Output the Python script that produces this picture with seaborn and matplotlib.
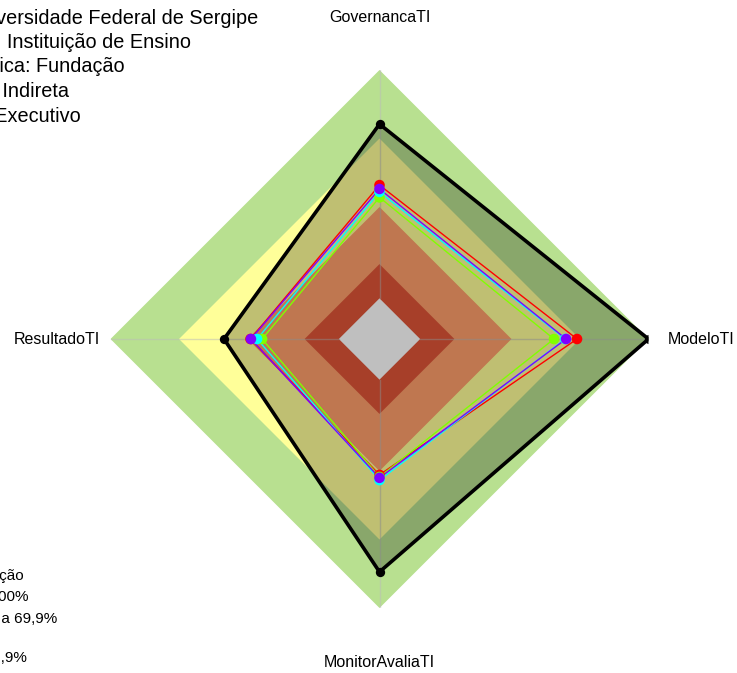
import numpy as np
import pandas as pd
import seaborn as sns
import matplotlib
matplotlib.use("Agg")
import matplotlib.pyplot as plt

plt.rcParams['font.family'] = ['Liberation Sans', 'DejaVu Sans']

# eixos do radar (sentido horario a partir do topo)
eixos = ["GovernancaTI", "ModeloTI", "MonitorAvaliaTI", "ResultadoTI"]

# faixas de classificacao (limite superior de cada faixa, %)
niveis = [100, 70, 40, 15, 0]
cores_niveis = ["#b8e090", "#ffff99", "#ffa06b", "#e05538", "#ffffff"]

# serie de referencia (linha preta)
referencia = [76.3, 100.0, 84.2, 50.3]

# avaliacoes da instituicao
series = ["Avaliação 1", "Avaliação 2", "Avaliação 3", "Avaliação 4"]
valores_1 = [49.6, 68.7, 41.7, 38.7]
valores_2 = [44.2, 58.6, 42.6, 33.6]
valores_3 = [46.6, 63.5, 44.0, 35.8]
valores_4 = [47.9, 63.9, 43.0, 38.5]
cores_series = ["#FF0000", "#80FF00", "#00FFFF", "#8000FF"]

info = ["Nome: Fundação Universidade Federal de Sergipe",
        "Segmento: Instituição de Ensino",
        "Natureza Jurídica: Fundação",
        "Administração: Indireta",
        "Poder: Executivo"]
legenda = ["Classificação",
           "Aprimorado: de 70% a 100%",
           "Intermediário: de 40% a 69,9%",
           "Iniciando:",
           "de 15% a 39,9%"]

W, H = 737, 673
fig = plt.figure(figsize=(W / 100, H / 100), dpi=100)
cx, cy, R = 379.5, 339, 269
ax = fig.add_axes([(cx - R) / W, (H - cy - R) / H, 2 * R / W, 2 * R / H], projection="polar")
ax.set_theta_offset(np.pi / 2)
ax.set_theta_direction(-1)

theta = np.linspace(0, 2 * np.pi, len(eixos), endpoint=False)
theta_f = np.append(theta, 2 * np.pi)

# faixas em losango
for nv, cor in zip(niveis, cores_niveis):
    ax.fill(theta_f, [nv] * len(theta_f), color=cor, lw=0, zorder=1)

# raios
for t in theta:
    ax.plot([t, t], [0, 100], color="#bbbbbb", alpha=0.5, lw=1, zorder=2)

# referencia preenchida
ref_f = referencia + referencia[:1]
ax.fill(theta_f, ref_f, color="black", alpha=0.25, lw=0, zorder=3)

rows = []
for nome, vals in zip(series, [valores_1, valores_2, valores_3, valores_4]):
    for t, v in zip(theta_f, vals + vals[:1]):
        rows.append({"theta": t, "valor": v, "serie": nome})
df = pd.DataFrame(rows)
pal = dict(zip(series, cores_series))

sns.lineplot(data=df, x="theta", y="valor", hue="serie", palette=pal, sort=False,
             estimator=None, lw=1, legend=False, ax=ax, zorder=4)
sns.lineplot(x=theta_f, y=ref_f, color="black", lw=2.6, sort=False, estimator=None,
             ax=ax, zorder=5)
sns.scatterplot(x=theta, y=referencia, color="black", s=45, linewidth=0, ax=ax, zorder=6)
pts = df[df["theta"] < 2 * np.pi]
sns.scatterplot(data=pts, x="theta", y="valor", hue="serie", palette=pal, s=58,
                linewidth=0, legend=False, ax=ax, zorder=7)

ax.set_xlim(0, 2 * np.pi)
ax.set_ylim(-17.8, 100)
ax.set_xticks([])
ax.set_yticks([])
ax.set_xlabel("")
ax.set_ylabel("")
ax.grid(False)
ax.spines["polar"].set_visible(False)
ax.patch.set_visible(False)

# rotulos dos eixos
fs = 11.5
ax.text(theta[0], 123, eixos[0], ha="center", va="center", fontsize=fs)
ax.text(theta[1], 108.3, eixos[1], ha="left", va="center", fontsize=fs)
ax.text(theta[2], 123.7, eixos[2], ha="center", va="center", fontsize=fs)
ax.text(theta[3], 104.8, eixos[3], ha="right", va="center", fontsize=fs)

# bloco de informacoes (cortado a esquerda)
fim_info = [258, 191, 125, 69, 81]
base_info = [23.5, 48, 72.5, 97, 121.5]
for txt, x, y in zip(info, fim_info, base_info):
    fig.text(x / W, 1 - y / H, txt, ha="right", va="baseline", fontsize=14.3)

fim_leg = [24, 28, 57, -8, 27]
base_leg = [580, 601, 623, 642, 662]
for txt, x, y in zip(legenda, fim_leg, base_leg):
    fig.text(x / W, 1 - y / H, txt, ha="right", va="baseline", fontsize=11)

fig.savefig("out.png", dpi=100)
